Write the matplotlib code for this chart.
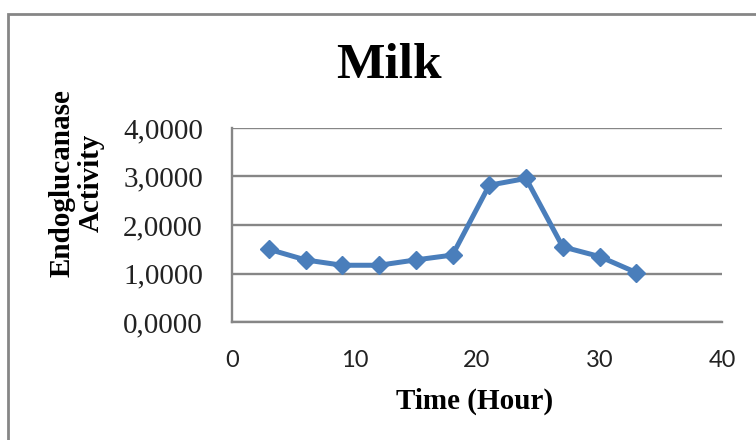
import matplotlib
matplotlib.use("Agg")
import matplotlib.pyplot as plt
from matplotlib.patches import Rectangle
from matplotlib.ticker import FuncFormatter

# data
time_hours = [3, 6, 9, 12, 15, 18, 21, 24, 27, 30, 33]
activity = [1.50, 1.28, 1.17, 1.17, 1.28, 1.38, 2.82, 2.96, 1.55, 1.35, 1.02]
x_ticks = [0, 10, 20, 30, 40]
y_ticks = [0, 1, 2, 3, 4]

line_color = "#4A7EBB"
grid_color = "#868686"
serif = ["Liberation Serif", "DejaVu Serif"]

fig = plt.figure(figsize=(7.56, 4.40), dpi=100)
ax = fig.add_axes([232 / 756, 1 - 322 / 440, 490 / 756, 194 / 440])

ax.plot(time_hours, activity, color=line_color, lw=3.6, marker="D",
        markersize=9, markerfacecolor=line_color, markeredgecolor=line_color,
        zorder=3)

ax.set_xlim(0, 40)
ax.set_ylim(0, 4)
ax.set_xticks(x_ticks)
ax.set_yticks(y_ticks)
ax.yaxis.set_major_formatter(FuncFormatter(lambda v, p: f"{v:.4f}".replace(".", ",")))

ax.grid(axis="y", color=grid_color, lw=1.7, zorder=1)
ax.set_axisbelow(True)
for s in ["top", "right"]:
    ax.spines[s].set_visible(False)
for s in ["left", "bottom"]:
    ax.spines[s].set_color(grid_color)
    ax.spines[s].set_linewidth(1.7)

ax.tick_params(axis="x", length=0, pad=20, labelsize=17, labelcolor="#222222")
ax.tick_params(axis="y", length=0, pad=21, labelsize=21, labelcolor="#222222")
for lab in ax.get_xticklabels():
    lab.set_family(["Lato", "DejaVu Sans"])
for lab in ax.get_yticklabels():
    lab.set_family(serif)

fig.text(389 / 756, 1 - 66 / 440, "Milk", family=serif, weight="bold",
         fontsize=37, ha="center", va="center")
fig.text(475 / 756, 1 - 401 / 440, "Time (Hour)", family=serif, weight="bold",
         fontsize=21, ha="center", va="center")
fig.text(77 / 756, 1 - 183 / 440, "Endoglucanase\nActivity", family=serif,
         weight="bold", fontsize=21, rotation=90, ha="center", va="center",
         multialignment="center", linespacing=1.1)

# outer chart frame
fig.patches.append(Rectangle((8 / 756, -0.1), 1.2, 1 - 14.5 / 440 + 0.1,
                             transform=fig.transFigure, fill=False,
                             edgecolor=grid_color, lw=2))

fig.savefig("out.png", dpi=100, facecolor="white")
